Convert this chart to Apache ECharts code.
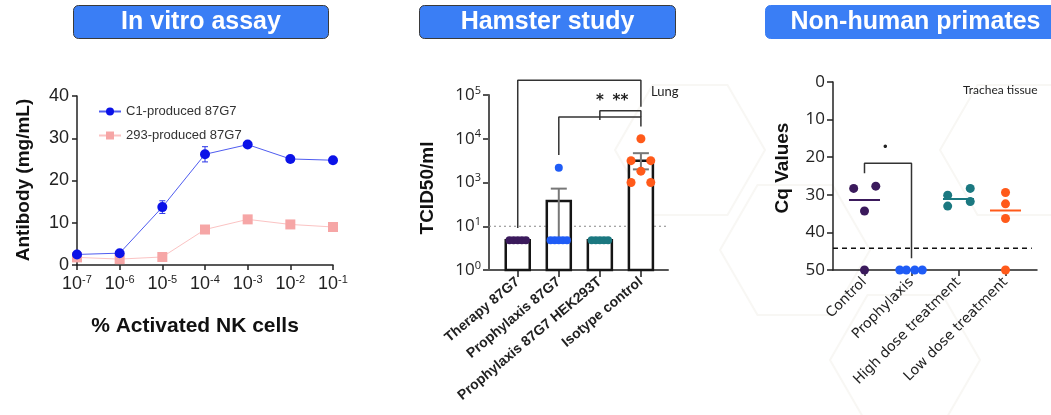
<!DOCTYPE html>
<html>
<head>
<meta charset="utf-8">
<script src="https://cdn.jsdelivr.net/npm/echarts@6/dist/echarts.min.js"></script>
<style>
html,body{margin:0;padding:0;background:#fff;}
#main{width:1051px;height:415px;}
</style>
</head>
<body>
<div id="main"></div>
<script>
// ---- In vitro assay ----
var nkRatio = [1e-7, 1e-6, 1e-5, 1e-4, 1e-3, 1e-2, 1e-1];
var c1Values = [2.5, 2.8, 13.7, 26.2, 28.5, 25.1, 24.8];
var c1Err = [0.3, 0.3, 1.5, 1.8, 0.6, 0.3, 0.4];
var hekValues = [1.8, 1.4, 1.9, 8.4, 10.8, 9.6, 9.0];
var hekErr = [0.3, 0.2, 0.3, 0.4, 0.5, 0.9, 0.8];

// ---- Hamster study (values in tick steps of the drawn log axis) ----
var hamsterGroups = ['Therapy 87G7', 'Prophylaxis 87G7', 'Prophylaxis 87G7 HEK293T', 'Isotype control'];
var hamsterTickExp = ['0', '1', '3', '4', '5'];
var hamsterMeans = [0.68, 1.58, 0.68, 2.5];
var hamsterErrLo = [null, 0.68, null, 2.3];
var hamsterErrHi = [null, 1.86, null, 2.67];
var therapyPts = [[-0.2, 0.68], [-0.1, 0.68], [0, 0.68], [0.1, 0.68], [0.2, 0.68]];
var prophPts = [[0.8, 0.68], [0.9, 0.68], [1, 0.68], [1.1, 0.68], [1.2, 0.68], [1, 2.34]];
var hekPts = [[1.8, 0.68], [1.9, 0.68], [2, 0.68], [2.1, 0.68], [2.2, 0.68]];
var isotypePts = [[3, 3.0], [2.76, 2.5], [3.24, 2.5], [3, 2.26], [2.76, 2.0], [3.24, 2.0]];
var hamsterLimit = 1;
var hamsterBrackets = [
    [[0, 0.96], [0, 4.34], [3, 4.34], [3, 3.73]],
    [[1, 2.63], [1, 3.50], [3, 3.50], [3, 3.28]],
    [[2, 3.43], [2, 3.64], [3, 3.64], [3, 3.50]]
];
var hamsterStars = [[2.0, 3.86, '*'], [2.5, 3.86, '**']];

// ---- Non-human primates (Cq) ----
var nhpGroups = ['Control', 'Prophylaxis', 'High dose treatment', 'Low dose treatment'];
var controlCq = [[-0.23, 28.3], [0.24, 27.7], [0, 34.3], [0, 50]];
var prophCq = [[0.75, 50], [0.89, 50], [1.07, 50], [1.23, 50]];
var highCq = [[1.77, 30.1], [1.77, 33.0], [2.25, 28.3], [2.25, 31.8]];
var lowCq = [[3, 29.4], [3, 32.4], [3, 36.3], [3, 50]];
var nhpMeans = [[0, 31.4, '#3b1a5c'], [2, 31.1, '#1b7880'], [3, 34.2, '#ff5a1a']];
var nhpLimit = 44.2;
var nhpBracket = [[0, 24.3], [0, 21.6], [1, 21.6], [1, 46.9]];
var nhpStar = [[0.44, 17.4, '•']];

var purple = '#3b1a5c', blue = '#1f5cf6', teal = '#1b7880', orange = '#ff5a1a';

var chart = echarts.init(document.getElementById('main'));

function supRich(font, size) {
    return {
        b: {fontSize: size, fontFamily: font, color: '#222'},
        s: {fontSize: Math.round(size * 0.62), fontFamily: font, color: '#222', padding: [0, 0, 9, 0]}
    };
}

function titleBox(x, w, text, withBorder) {
    return {
        type: 'group', left: x, top: 5,
        children: [
            {type: 'rect', shape: {x: 0, y: 0, width: w, height: 33, r: 5},
             style: {fill: '#3a7ef5', stroke: withBorder ? '#3a3a3a' : '#3a7ef5', lineWidth: 1}},
            {type: 'text', x: w / 2, y: 17,
             style: {text: text, fill: '#fff', font: 'bold 25px "Liberation Sans", Arial, sans-serif',
                     textAlign: 'center', textVerticalAlign: 'middle'}}
        ]
    };
}

function vText(x, y, text, font) {
    return {type: 'text', x: x, y: y, rotation: Math.PI / 2,
            style: {text: text, font: font, fill: '#111', textAlign: 'center', textVerticalAlign: 'middle'}};
}

// faint hexagon outline in the page background
function hexagon(cx, cy, r) {
    var pts = [];
    for (var k = 0; k < 6; k++) {
        var a = Math.PI / 3 * k;
        pts.push([cx + r * Math.cos(a), cy + r * Math.sin(a)]);
    }
    return {type: 'polygon', z: -10, silent: true, shape: {points: pts},
            style: {fill: 'rgba(0,0,0,0)', stroke: '#f8f7f4', lineWidth: 2}};
}

function errBarItem(color, capW, lw) {
    return function (params, api) {
        var x = api.value(0), lo = api.value(1), hi = api.value(2);
        var p1 = api.coord([x, lo]), p2 = api.coord([x, hi]);
        return {type: 'group', children: [
            {type: 'line', shape: {x1: p1[0], y1: p1[1], x2: p2[0], y2: p2[1]}, style: {stroke: color, lineWidth: lw}},
            {type: 'line', shape: {x1: p2[0] - capW, y1: p2[1], x2: p2[0] + capW, y2: p2[1]}, style: {stroke: color, lineWidth: lw}},
            {type: 'line', shape: {x1: p1[0] - capW, y1: p1[1], x2: p1[0] + capW, y2: p1[1]}, style: {stroke: color, lineWidth: lw}}
        ]};
    };
}

// text marks placed in data coordinates
function textItem(list, font) {
    return function (params, api) {
        var p = api.coord([api.value(0), api.value(1)]);
        return {type: 'text', x: p[0], y: p[1],
                style: {text: list[params.dataIndex][2], font: font, fill: '#222', textAlign: 'center', textVerticalAlign: 'middle'}};
    };
}

var c1ErrData = nkRatio.map(function (x, i) { return [x, c1Values[i] - c1Err[i], c1Values[i] + c1Err[i]]; });
var hekErrData = nkRatio.map(function (x, i) { return [x, hekValues[i] - hekErr[i], hekValues[i] + hekErr[i]]; });
var hamsterBarData = hamsterMeans.map(function (v, i) { return [i, v]; });
var hamsterErrData = [];
hamsterMeans.forEach(function (v, i) {
    if (hamsterErrHi[i] != null) hamsterErrData.push([i, hamsterErrLo[i], hamsterErrHi[i]]);
});

var bracketStyle = {color: '#333', width: 1.5};

var series = [
    // panel 1
    {type: 'custom', xAxisIndex: 0, yAxisIndex: 0, renderItem: errBarItem('#2a35e8', 3, 1), data: c1ErrData, z: 3},
    {type: 'custom', xAxisIndex: 0, yAxisIndex: 0, renderItem: errBarItem('#f5a5a5', 3, 1), data: hekErrData, z: 3},
    {name: 'C1-produced 87G7', type: 'line', xAxisIndex: 0, yAxisIndex: 0,
     data: nkRatio.map(function (x, i) { return [x, c1Values[i]]; }),
     symbol: 'circle', symbolSize: 10, lineStyle: {color: '#4f5cf0', width: 1},
     itemStyle: {color: '#0b12e8'}, z: 5},
    {name: '293-produced 87G7', type: 'line', xAxisIndex: 0, yAxisIndex: 0,
     data: nkRatio.map(function (x, i) { return [x, hekValues[i]]; }),
     symbol: 'rect', symbolSize: 10, lineStyle: {color: '#fbc3c3', width: 1},
     itemStyle: {color: '#f6a6a6'}, z: 4},
    // panel 2
    {type: 'custom', xAxisIndex: 1, yAxisIndex: 1, data: hamsterBarData, z: 2,
     renderItem: function (params, api) {
         var top = api.coord([api.value(0), api.value(1)]);
         var base = api.coord([api.value(0), 0]);
         return {type: 'rect', shape: {x: top[0] - 12, y: top[1], width: 24, height: base[1] - top[1]},
                 style: {fill: '#fff', stroke: '#151515', lineWidth: 2.5}};
     }},
    {type: 'line', xAxisIndex: 1, yAxisIndex: 1, data: [[-0.7, hamsterLimit], [3.66, hamsterLimit]],
     symbol: 'none', lineStyle: {color: '#888', width: 1.2, type: [2, 3]}, z: 1},
    {type: 'custom', xAxisIndex: 1, yAxisIndex: 1, data: hamsterErrData, z: 3,
     renderItem: errBarItem('#777', 8, 2)},
    {type: 'scatter', xAxisIndex: 1, yAxisIndex: 1, data: therapyPts, symbolSize: 8, itemStyle: {color: purple, opacity: 1}, z: 4},
    {type: 'scatter', xAxisIndex: 1, yAxisIndex: 1, data: prophPts, symbolSize: 8, itemStyle: {color: blue, opacity: 1}, z: 4},
    {type: 'scatter', xAxisIndex: 1, yAxisIndex: 1, data: hekPts, symbolSize: 8, itemStyle: {color: teal, opacity: 1}, z: 4},
    {type: 'scatter', xAxisIndex: 1, yAxisIndex: 1, data: isotypePts, symbolSize: 9, itemStyle: {color: orange, opacity: 1}, z: 4},
    {type: 'custom', xAxisIndex: 1, yAxisIndex: 1, data: hamsterStars.map(function (s) { return [s[0], s[1]]; }), z: 5,
     renderItem: textItem(hamsterStars, 'bold 15px "DejaVu Sans", sans-serif')}
].concat(hamsterBrackets.map(function (b) {
    return {type: 'line', xAxisIndex: 1, yAxisIndex: 1, data: b, symbol: 'none', clip: false,
            lineStyle: bracketStyle, z: 5};
})).concat([
    // panel 3
    {type: 'line', xAxisIndex: 2, yAxisIndex: 2, data: [[-0.67, nhpLimit], [3.56, nhpLimit]],
     symbol: 'none', lineStyle: {color: '#111', width: 1.5, type: [5, 4]}, z: 1},
    {type: 'line', xAxisIndex: 2, yAxisIndex: 2, data: nhpBracket, symbol: 'none', clip: false,
     lineStyle: bracketStyle, z: 2},
    {type: 'custom', xAxisIndex: 2, yAxisIndex: 2, data: nhpMeans.map(function (m) { return [m[0], m[1]]; }), z: 3,
     renderItem: function (params, api) {
         var a = api.coord([api.value(0) - 0.33, api.value(1)]);
         var b = api.coord([api.value(0) + 0.33, api.value(1)]);
         return {type: 'line', shape: {x1: a[0], y1: a[1], x2: b[0], y2: b[1]},
                 style: {stroke: nhpMeans[params.dataIndex][2], lineWidth: 2}};
     }},
    {type: 'scatter', xAxisIndex: 2, yAxisIndex: 2, data: controlCq, symbolSize: 9, itemStyle: {color: purple, opacity: 1}, clip: false, z: 4},
    {type: 'scatter', xAxisIndex: 2, yAxisIndex: 2, data: prophCq, symbolSize: 9, itemStyle: {color: blue, opacity: 1}, clip: false, z: 4},
    {type: 'scatter', xAxisIndex: 2, yAxisIndex: 2, data: highCq, symbolSize: 9, itemStyle: {color: teal, opacity: 1}, clip: false, z: 4},
    {type: 'scatter', xAxisIndex: 2, yAxisIndex: 2, data: lowCq, symbolSize: 9, itemStyle: {color: orange, opacity: 1}, clip: false, z: 4},
    {type: 'custom', xAxisIndex: 2, yAxisIndex: 2, data: nhpStar.map(function (s) { return [s[0], s[1]]; }), z: 5,
     renderItem: textItem(nhpStar, '12px "DejaVu Sans", sans-serif')}
]);

var option = {
    animation: false,
    backgroundColor: '#fff',
    legend: {
        data: ['C1-produced 87G7', '293-produced 87G7'],
        orient: 'vertical', left: 93, top: 100, itemGap: 11, itemWidth: 22, itemHeight: 10,
        textStyle: {fontSize: 13, fontFamily: '"Liberation Sans", Arial, sans-serif', color: '#333'}
    },
    grid: [
        {left: 77, top: 96, width: 256, height: 169},
        {left: 489, top: 95, width: 179, height: 175},
        {left: 833, top: 82, width: 204, height: 188}
    ],
    xAxis: [
        {type: 'log', gridIndex: 0, logBase: 10, min: 1e-7, max: 1e-1, interval: 1,
         axisLine: {onZero: false, lineStyle: {color: '#222', width: 1.5}},
         axisTick: {length: 5, lineStyle: {color: '#222', width: 1.5}},
         splitLine: {show: false}, minorTick: {show: false},
         axisLabel: {margin: 9, formatter: function (v) {
             return '{b|10}{s|' + Math.round(Math.log(v) / Math.LN10) + '}';
         }, rich: supRich('"Liberation Sans", Arial, sans-serif', 18)}},
        {type: 'value', gridIndex: 1, min: -0.7, max: 3.66,
         axisLine: {onZero: false, lineStyle: {color: '#555', width: 2}},
         axisTick: {length: 7, customValues: [0, 1, 2, 3], lineStyle: {color: '#555', width: 2}},
         splitLine: {show: false},
         axisLabel: {customValues: [0, 1, 2, 3], rotate: 40, margin: 10,
                     formatter: function (v) { return hamsterGroups[Math.round(v)]; },
                     fontSize: 14, fontWeight: 'bold', fontFamily: '"Liberation Sans", Arial, sans-serif', color: '#222'}},
        {type: 'value', gridIndex: 2, min: -0.67, max: 3.67,
         axisLine: {onZero: false, lineStyle: {color: '#222', width: 1.5}},
         axisTick: {length: 6, customValues: [0, 1, 2, 3], lineStyle: {color: '#222', width: 1.5}},
         splitLine: {show: false},
         axisLabel: {customValues: [0, 1, 2, 3], rotate: 45, margin: 10,
                     formatter: function (v) { return nhpGroups[Math.round(v)]; },
                     fontSize: 14, fontFamily: '"DejaVu Sans", sans-serif', color: '#222'}}
    ],
    yAxis: [
        {type: 'value', gridIndex: 0, min: 0, max: 40, interval: 10,
         axisLine: {show: true, onZero: false, lineStyle: {color: '#222', width: 1.5}},
         axisTick: {show: true, length: 5, lineStyle: {color: '#222', width: 1.5}},
         splitLine: {show: false},
         axisLabel: {margin: 8, fontSize: 18, fontFamily: '"Liberation Sans", Arial, sans-serif', color: '#222'}},
        {type: 'value', gridIndex: 1, min: 0, max: 4, interval: 1,
         axisLine: {show: true, onZero: false, lineStyle: {color: '#555', width: 2}},
         axisTick: {show: true, length: 6, lineStyle: {color: '#555', width: 2}},
         splitLine: {show: false},
         axisLabel: {margin: 8, formatter: function (v) { return '{b|10}{s|' + hamsterTickExp[Math.round(v)] + '}'; },
                     rich: supRich('"Open Sans", sans-serif', 17)}},
        {type: 'value', gridIndex: 2, min: 0, max: 50, interval: 10, inverse: true,
         axisLine: {show: true, onZero: false, lineStyle: {color: '#222', width: 1.5}},
         axisTick: {show: true, length: 6, lineStyle: {color: '#222', width: 1.5}},
         splitLine: {show: false},
         axisLabel: {margin: 8, fontSize: 17, fontFamily: '"Open Sans", sans-serif', color: '#222'}}
    ],
    graphic: [
        hexagon(690, 150, 75),
        hexagon(905, 360, 75),
        hexagon(795, 250, 75),
        hexagon(1015, 150, 75),
        titleBox(73, 255, 'In vitro assay', true),
        titleBox(419, 256, 'Hamster study', true),
        titleBox(765, 300, 'Non-human primates', false),
        vText(24, 180, 'Antibody (mg/mL)', 'bold 19px "Liberation Sans", Arial, sans-serif'),
        vText(428, 188, 'TCID50/ml', 'bold 19px "Liberation Sans", Arial, sans-serif'),
        vText(783, 168, 'Cq Values', 'bold 19px "Liberation Sans", Arial, sans-serif'),
        {type: 'text', x: 195, y: 326, style: {text: '% Activated NK cells', font: 'bold 21px "Liberation Sans", Arial, sans-serif',
            fill: '#111', textAlign: 'center', textVerticalAlign: 'middle'}},
        {type: 'text', x: 651, y: 92, style: {text: 'Lung', font: '13px Lato, sans-serif', fill: '#222', textVerticalAlign: 'middle'}},
        {type: 'text', x: 963, y: 90, style: {text: 'Trachea tissue', font: '12px Lato, sans-serif', fill: '#222', textVerticalAlign: 'middle'}}
    ],
    series: series
};

chart.setOption(option);
</script>
</body>
</html>
